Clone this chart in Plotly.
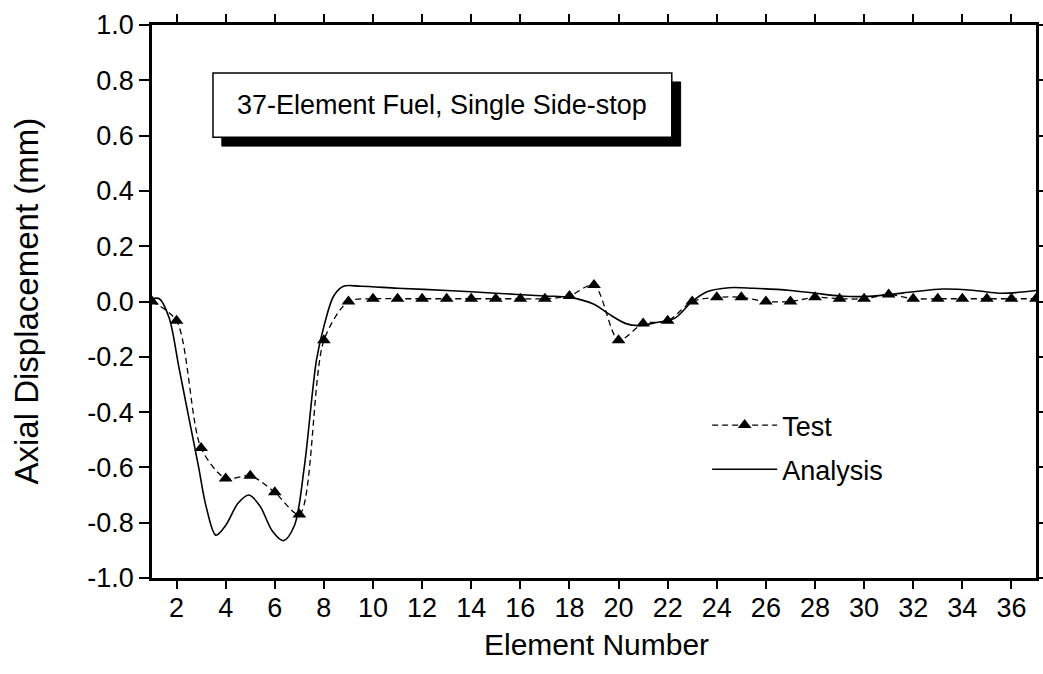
import plotly.graph_objects as go

# ---- data ----
test_x = list(range(1, 38))
test_y = [0.00, -0.07, -0.53, -0.64, -0.63, -0.69, -0.77, -0.14, 0.00, 0.01,
          0.01, 0.01, 0.01, 0.01, 0.01, 0.01, 0.01, 0.02, 0.06, -0.14,
          -0.08, -0.07, 0.00, 0.015, 0.015, 0.00, 0.00, 0.015, 0.01, 0.01,
          0.025, 0.01, 0.01, 0.01, 0.01, 0.01, 0.01]

ana_x = [1.0, 1.3, 1.7, 2.1, 2.5, 2.9, 3.2, 3.6, 4.0, 4.5, 4.95, 5.4, 5.9, 6.35,
         6.8, 7.2, 7.7, 8.0, 8.4, 8.8, 9.5, 11, 13, 15, 17, 18, 19, 19.6, 20.3,
         20.8, 21.6, 22.3, 23.0, 23.6, 24.5, 25.5, 27, 28, 29, 30, 31, 32, 33.2,
         34.5, 35.6, 37]
ana_y = [0.01, 0.01, -0.06, -0.24, -0.42, -0.60, -0.74, -0.845, -0.81, -0.73,
         -0.70, -0.74, -0.83, -0.865, -0.81, -0.60, -0.21, -0.09, 0.02, 0.055,
         0.055, 0.048, 0.04, 0.03, 0.02, 0.015, -0.01, -0.045, -0.08, -0.087,
         -0.075, -0.06, 0.0, 0.035, 0.05, 0.048, 0.04, 0.03, 0.02, 0.018, 0.025,
         0.035, 0.045, 0.04, 0.03, 0.04]

x_ticks = list(range(2, 37, 2))
y_ticks = [-1.0, -0.8, -0.6, -0.4, -0.2, 0.0, 0.2, 0.4, 0.6, 0.8, 1.0]
box_text = "37-Element Fuel, Single Side-stop"
x_title = "Element Number"
y_title = "Axial Displacement (mm)"

FONT = "Liberation Sans, Arial, sans-serif"

fig = go.Figure()
fig.add_trace(go.Scatter(
    x=test_x, y=test_y, name="Test", mode="lines+markers",
    line=dict(color="black", width=1.3, dash="6px,4px", shape="spline", smoothing=0.8),
    marker=dict(symbol="triangle-up", size=12, color="black"),
    legendgroup="a"))
fig.add_trace(go.Scatter(
    x=ana_x, y=ana_y, name="Analysis", mode="lines",
    line=dict(color="black", width=1.6, shape="spline", smoothing=0.9),
    legendgroup="b"))
# empty trace to carry the tick-only overlay axis
fig.add_trace(go.Scatter(x=[], y=[], xaxis="x2", yaxis="y", showlegend=False,
                         hoverinfo="skip"))

tickfont = dict(family=FONT, size=27, color="black")

fig.update_layout(
    width=1043, height=674,
    margin=dict(l=152, r=7, t=25, b=96, autoexpand=False),
    paper_bgcolor="white", plot_bgcolor="white",
    font=dict(family=FONT, color="black"),
    xaxis=dict(range=[1, 37], tickvals=x_ticks, ticktext=[str(v) for v in x_ticks],
               showline=True, linecolor="black", linewidth=2.5, mirror=True,
               ticks="outside", ticklen=4, tickwidth=2, tickcolor="black",
               showgrid=False, zeroline=False, tickfont=tickfont, automargin=False),
    xaxis2=dict(range=[1, 37], overlaying="x", anchor="y", side="bottom",
                tickvals=x_ticks, showticklabels=False,
                showline=False, mirror="ticks",
                ticks="outside", ticklen=10, tickwidth=2, tickcolor="black",
                showgrid=False, zeroline=False, automargin=False),
    yaxis=dict(range=[-1.0, 1.0], tickvals=y_ticks,
               ticktext=[f"{v:.1f}" for v in y_ticks],
               showline=True, linecolor="black", linewidth=2.5, mirror="ticks",
               ticks="outside", ticklen=10, tickwidth=2, tickcolor="black",
               showgrid=False, zeroline=False, tickfont=tickfont, automargin=False),
    showlegend=True,
    legend=dict(x=0.628, y=0.32, xanchor="left", yanchor="top",
                bgcolor="rgba(0,0,0,0)", borderwidth=0,
                font=dict(family=FONT, size=27), itemwidth=65,
                traceorder="grouped", tracegroupgap=6),
)

# axis titles
fig.add_annotation(xref="paper", yref="paper", x=0.503, y=-0.121,
                   xanchor="center", yanchor="middle", text=x_title,
                   showarrow=False, font=dict(family=FONT, size=30, color="black"))
fig.add_annotation(xref="paper", yref="paper", x=-0.1425, y=0.5,
                   xanchor="center", yanchor="middle", text=y_title, textangle=-90,
                   showarrow=False, font=dict(family=FONT, size=33, color="black"))

# shadow then box
fig.add_shape(type="rect", xref="paper", yref="paper",
              x0=0.079, x1=0.598, y0=0.781, y1=0.897,
              fillcolor="black", line=dict(color="black", width=1))
fig.add_shape(type="rect", xref="paper", yref="paper",
              x0=0.069, x1=0.588, y0=0.797, y1=0.913,
              fillcolor="white", line=dict(color="black", width=1.5))
fig.add_annotation(xref="paper", yref="paper", x=0.3285, y=0.855,
                   xanchor="center", yanchor="middle",
                   text=box_text, showarrow=False,
                   font=dict(family=FONT, size=27, color="black"))

fig.write_html("out.html", config={"displayModeBar": False},
               post_script="document.body.style.margin='0';")
